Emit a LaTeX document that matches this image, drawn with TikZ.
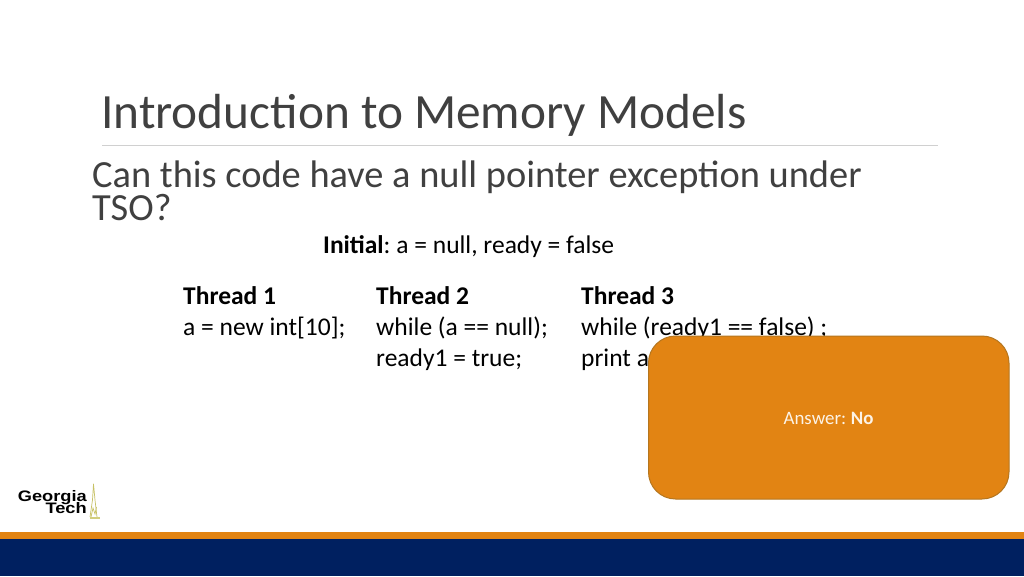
\documentclass[tikz,border=0pt]{standalone}
\usepackage{fontspec}
\setmainfont{Carlito}
\newfontfamily\logofont{Liberation Sans}
\definecolor{gtorange}{HTML}{E28413}
\definecolor{gtedge}{HTML}{B5761F}
\definecolor{gtnavy}{HTML}{002060}
\definecolor{titlegray}{HTML}{404040}
\definecolor{bodygray}{HTML}{404040}
\definecolor{rulegray}{HTML}{D0D0D0}
\tikzset{
  txt/.style={inner sep=0pt,anchor=base west,text=black,font=\fontsize{25.5}{25.5}\selectfont},
  qtxt/.style={inner sep=0pt,anchor=base west,text=bodygray,font=\fontsize{38.4}{38.4}\selectfont},
  logotxt/.style={inner sep=0pt,anchor=base east,text=black,xscale=1.2,transform shape,font=\logofont\bfseries\fontsize{15.2}{15.2}\selectfont},
}
\begin{document}
\begin{tikzpicture}[x=1pt,y=-1pt]
\useasboundingbox (0,0) rectangle (1024,576);
\fill[white] (0,0) rectangle (1024,576);
\fill[gtorange] (0,532) rectangle (1024,539);
\fill[gtnavy] (0,539) rectangle (1024,576);
\draw[rulegray,line width=1pt] (102,145.5) -- (938,145.5);
\node[inner sep=0pt,anchor=base west,text=titlegray,font=\fontsize{49.3}{49.3}\selectfont] (title) at (101,128) {Introduction to Memory Models};
\node[qtxt] (q1) at (92,187) {Can this code have a null pointer exception under};
\node[qtxt] (q2) at (92,220.5) {TSO?};
\node[txt] (init) at (323,253) {\textbf{Initial}:\hspace{-1.8pt} a = null, ready = false};
\node[txt] (t1h) at (183,304.5) {\textbf{Thread 1}};
\node[txt] (t1a) at (183,335) {a = new int[10];};
\node[txt] (t2h) at (376,304.5) {\textbf{Thread 2}};
\node[txt] (t2a) at (376,335) {while (a == null);};
\node[txt] (t2b) at (376,366) {ready1 = true;};
\node[txt] (t3h) at (581,304.5) {\textbf{Thread 3}};
\node[txt] (t3a) at (581,335) {while (ready1 == false) ;};
\node[txt] (t3b) at (581,366) {print a};
\draw[gtedge,fill=gtorange,line width=1pt,rounded corners=27pt] (648.5,336) rectangle (1009,499);
\node[inner sep=0pt,anchor=base,text=white!90!gtorange,font=\fontsize{18.9}{18.9}\selectfont] (ans) at (828.5,424) {Answer:\hspace{-1pt} \textbf{No}};
\node[logotxt] (g1) at (87,501) {Georgia};
\node[logotxt] (g2) at (87,513.5) {Tech};
\draw[olive!50!white,line width=0.7pt,line join=round] (90,517) -- (92.5,500) -- (93.5,484) -- (95,500) -- (97,517);
\draw[olive!50!white,line width=0.7pt] (91,517) -- (93,508) -- (95,514) -- (96.5,507);
\fill[olive!40!white] (90,516.5) rectangle (100,519);
\end{tikzpicture}
\end{document}
